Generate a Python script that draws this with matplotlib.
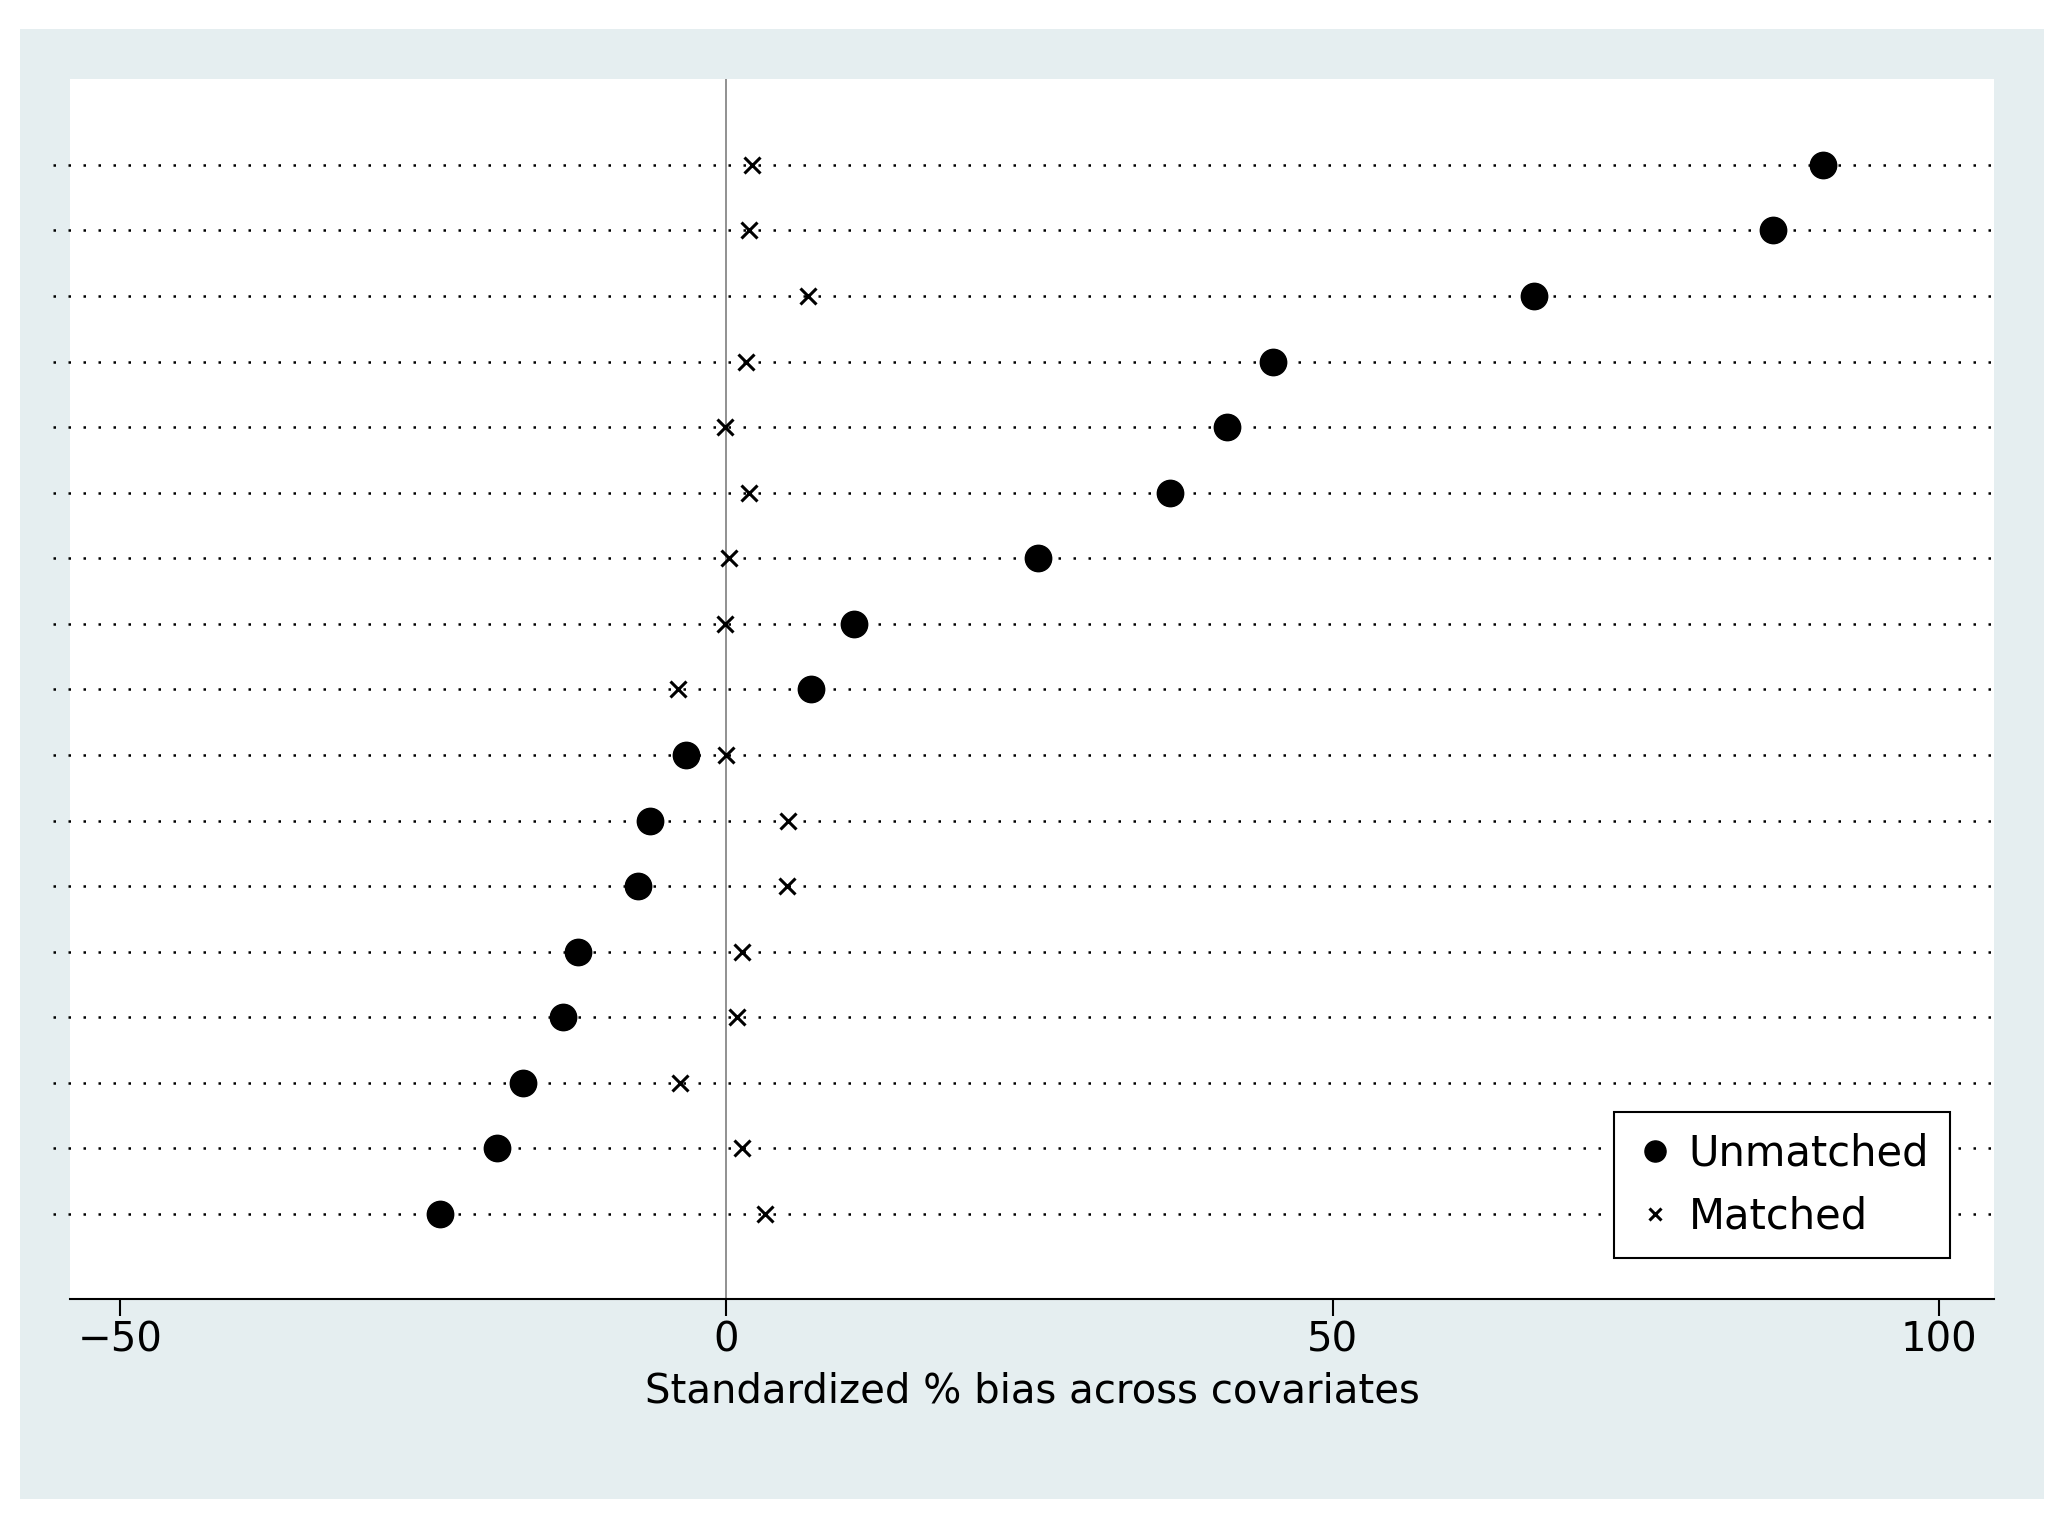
import matplotlib.pyplot as plt
from matplotlib.patches import Rectangle

# one row per covariate, top to bottom
unmatched = [90.4, 86.3, 66.6, 45.1, 41.3, 36.6, 25.7, 10.5, 7.0, -3.3,
             -6.3, -7.3, -12.2, -13.5, -16.8, -18.9, -23.6]
matched = [2.1, 1.9, 6.7, 1.6, -0.1, 1.9, 0.2, -0.1, -4.0, 0.0,
           5.1, 5.0, 1.3, 0.9, -3.8, 1.3, 3.2]
xticks = [-50, 0, 50, 100]

fig = plt.figure(figsize=(20.64, 15.17), dpi=100)
fig.patch.set_facecolor("white")
fig.add_artist(Rectangle((0.0096, 0.012), 0.9808, 0.969, transform=fig.transFigure,
                         facecolor="#e5eef0", edgecolor="none", zorder=-10))

ax = fig.add_axes([0.034, 0.144, 0.932, 0.804])
ax.set_zorder(5)
ax.set_facecolor("white")
rows = list(range(1, len(unmatched) + 1))

for r in rows:
    ax.plot([-55.5, 104.3], [r, r], color="black", linestyle=(0, (1, 5)),
            linewidth=1.8, clip_on=False, zorder=1)
ax.axvline(0, color="#888888", linewidth=1.3, zorder=1)

ax.plot(unmatched, rows, "o", color="black", markersize=19, label="Unmatched", zorder=3)
ax.plot(matched, rows, "x", color="black", markersize=11, markeredgewidth=2.2,
        label="Matched", zorder=3)

ax.set_xlim(-54.1, 104.5)
ax.set_ylim(18.29, -0.31)
ax.set_yticks([])
ax.set_xticks(xticks)
ax.set_xticklabels(["\u221250", "0", "50", "100"])
ax.tick_params(axis="x", direction="out", length=12, width=1.5, labelsize=29, pad=4)
for s in ["top", "right", "left"]:
    ax.spines[s].set_visible(False)
ax.spines["bottom"].set_linewidth(1.5)
ax.set_xlabel("Standardized % bias across covariates", fontsize=29, labelpad=8)

leg = ax.legend(loc="lower right", bbox_to_anchor=(0.988, 0.016), fontsize=30,
                frameon=True, fancybox=False, handletextpad=0.3, borderpad=0.5,
                handlelength=1.0, markerscale=0.8, framealpha=1)
leg.get_frame().set_edgecolor("black")
leg.get_frame().set_linewidth(1.5)

fig.savefig("out.png", dpi=100, facecolor=fig.get_facecolor())
